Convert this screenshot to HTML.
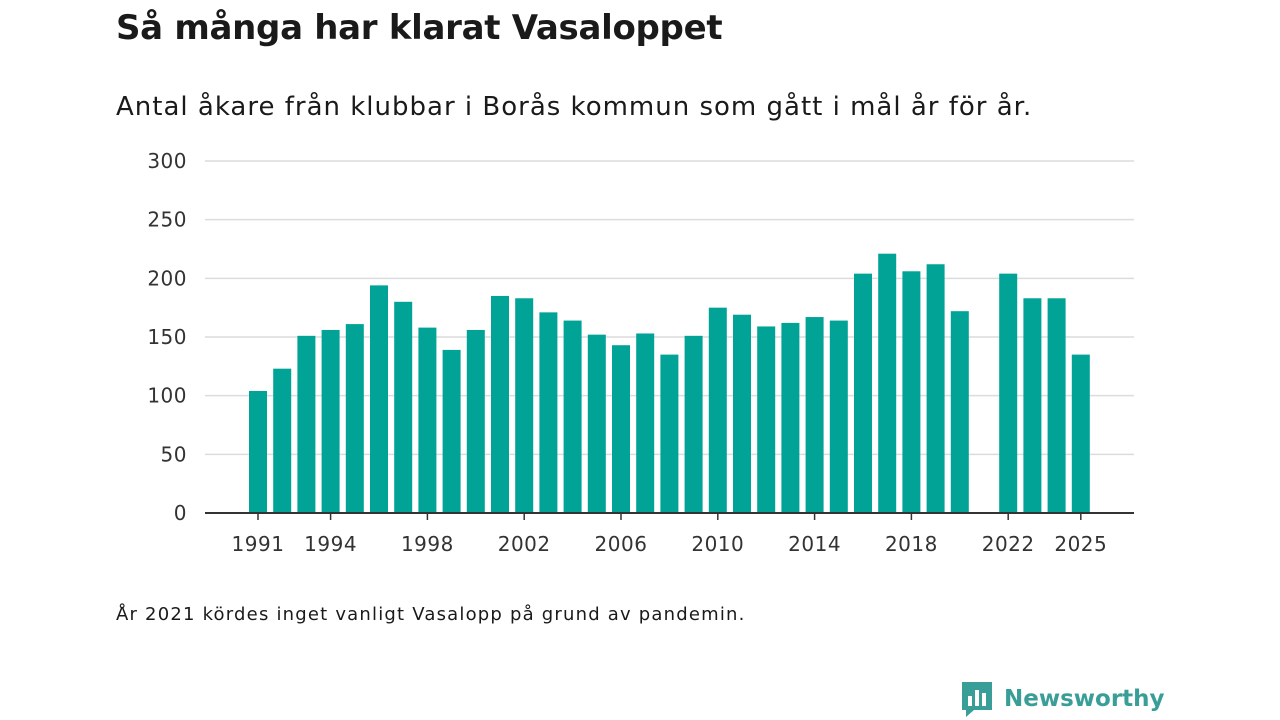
<!DOCTYPE html>
<html><head><meta charset="utf-8"><style>
body{margin:0;width:1280px;height:720px;background:#fff;font-family:"DejaVu Sans","Liberation Sans",sans-serif;color:#1a1a1a;position:relative;overflow:hidden}
h1{position:absolute;left:116px;top:8px;margin:0;font-size:34px;font-weight:bold;letter-spacing:-0.3px}
.sub{position:absolute;left:116px;top:92px;font-size:26px;letter-spacing:1px}
.note{position:absolute;left:116px;top:604px;font-size:18px;letter-spacing:1.2px}
.logo{position:absolute;left:960px;top:680px;display:flex;align-items:center;gap:10px;color:#3a9e98;font-weight:bold;font-size:23px}
</style></head><body>
<h1>Så många har klarat Vasaloppet</h1>
<div class="sub">Antal åkare från klubbar i Borås kommun som gått i mål år för år.</div>
<svg id="chart" width="1280" height="720" style="position:absolute;left:0;top:0"></svg>
<div class="note">År 2021 kördes inget vanligt Vasalopp på grund av pandemin.</div>
<div class="logo">
<svg width="34" height="38" viewBox="0 0 34 38"><path d="M2 2h30v28H14l-8 7v-7H2z" fill="#3a9e98"/><rect x="8" y="16" width="4" height="10" fill="#fff"/><rect x="15" y="10" width="4" height="16" fill="#fff"/><rect x="22" y="13" width="4" height="13" fill="#fff"/></svg>
<span>Newsworthy</span></div>
<script>
const years=[1991,1992,1993,1994,1995,1996,1997,1998,1999,2000,2001,2002,2003,2004,2005,2006,2007,2008,2009,2010,2011,2012,2013,2014,2015,2016,2017,2018,2019,2020,2021,2022,2023,2024,2025];
const values=[104,123,151,156,161,194,180,158,139,156,185,183,171,164,152,143,153,135,151,175,169,159,162,167,164,204,221,206,212,172,null,204,183,183,135];
const yTicks=[0,50,100,150,200,250,300];
const xTickLabels=[1991,1994,1998,2002,2006,2010,2014,2018,2022,2025];
const svg=document.getElementById('chart');const NS='http://www.w3.org/2000/svg';
const y=v=>513-v*352/300;const x=yr=>258+(yr-1991)*24.2;
function el(t,a){const e=document.createElementNS(NS,t);for(const k in a)e.setAttribute(k,a[k]);svg.appendChild(e);return e;}
yTicks.forEach(t=>{
 if(t>0){const l=el('line',{x1:205,x2:1134,y1:y(t),y2:y(t),stroke:'#dcdcdc','stroke-width':1.5});
 
 }
 const tx=el('text',{x:187,y:y(t)+7,'text-anchor':'end','font-size':20,fill:'#333','letter-spacing':0.5});tx.textContent=t;
 
 
});
years.forEach((yr,i)=>{const v=values[i];if(v==null)return;
 const r=el('rect',{x:x(yr)-9,y:y(v),width:18,height:y(0)-y(v),fill:'#00a396'});
 
 
});
const ax=el('line',{x1:205,x2:1134,y1:513,y2:513,stroke:'#333','stroke-width':2});


xTickLabels.forEach(yr=>{
 const tk=el('line',{x1:x(yr),x2:x(yr),y1:513,y2:520,stroke:'#333','stroke-width':1.5});
 
 
 const tx=el('text',{x:x(yr),y:551,'text-anchor':'middle','font-size':20,fill:'#333','letter-spacing':0.5});tx.textContent=yr;
 
 
});
</script>
</body></html>
